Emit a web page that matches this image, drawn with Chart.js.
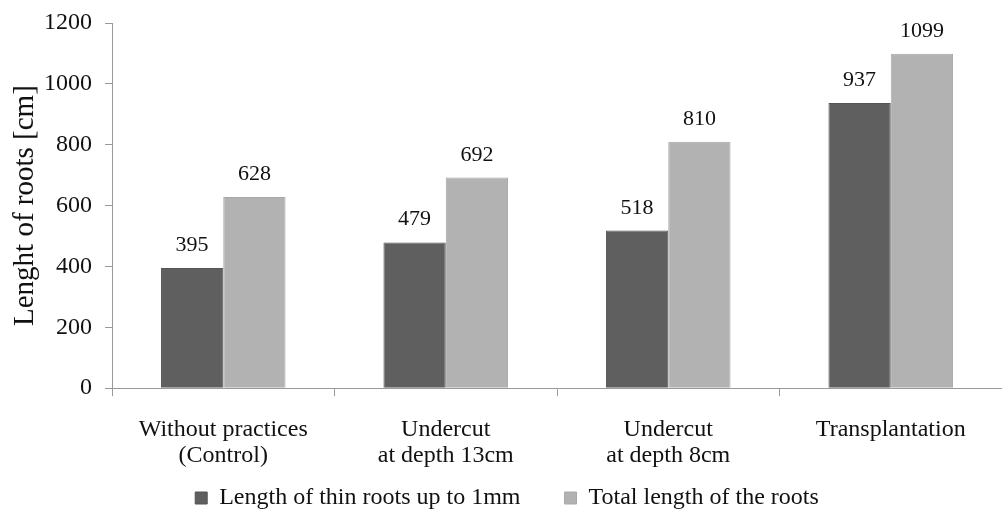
<!DOCTYPE html>
<html lang="en">
<head>
    <meta charset="UTF-8">
    <title>Length of roots</title>
    <script src="https://cdn.jsdelivr.net/npm/chart.js@4.4.1/dist/chart.umd.min.js"></script>
    <style>
        body { margin: 0; background: #fff; }
        #wrap { width: 1002px; height: 520px; }
    </style>
</head>
<body>
    <div id="wrap"><canvas id="rootsChart"></canvas></div>
    <script>
        const categories = [
            ['Without practices', '(Control)'],
            ['Undercut', 'at depth 13cm'],
            ['Undercut', 'at depth 8cm'],
            'Transplantation'
        ];
        const thinRoots = [395, 479, 518, 937];
        const totalRoots = [628, 692, 810, 1099];
        const seriesNames = ['Length of thin roots up to 1mm', 'Total length of the roots'];

        const serif = '"Liberation Serif", "Times New Roman", serif';

        // draws the value above each bar
        const valueLabels = {
            id: 'valueLabels',
            afterDatasetsDraw(chart) {
                const ctx = chart.ctx;
                ctx.save();
                ctx.font = '22px ' + serif;
                ctx.fillStyle = '#111';
                ctx.textAlign = 'center';
                ctx.textBaseline = 'alphabetic';
                chart.data.datasets.forEach((ds, i) => {
                    chart.getDatasetMeta(i).data.forEach((bar, j) => {
                        ctx.fillText(ds.data[j], bar.x, bar.y - 17);
                    });
                });
                ctx.restore();
            }
        };

        new Chart(document.getElementById('rootsChart'), {
            type: 'bar',
            data: {
                labels: categories,
                datasets: [{
                    label: seriesNames[0],
                    data: thinRoots,
                    backgroundColor: '#5f5f5f',
                    borderColor: '#555',
                    borderWidth: 1
                }, {
                    label: seriesNames[1],
                    data: totalRoots,
                    backgroundColor: '#b2b2b2',
                    borderColor: '#a8a8a8',
                    borderWidth: 1
                }]
            },
            options: {
                responsive: true,
                maintainAspectRatio: false,
                animation: false,
                layout: { padding: { top: 0, right: -12, left: 0, bottom: 0 } },
                datasets: { bar: { categoryPercentage: 0.56, barPercentage: 1 } },
                plugins: {
                    legend: {
                        position: 'bottom',
                        labels: {
                            font: { family: serif, size: 24 },
                            color: '#111',
                            boxWidth: 12,
                            boxHeight: 12,
                            padding: 8,
                            // widen the gap between the two entries
                            generateLabels(chart) {
                                const items = Chart.defaults.plugins.legend.labels.generateLabels(chart);
                                items[0].text += '\u2002\u2002\u2002';
                                return items;
                            }
                        }
                    },
                    tooltip: { enabled: false }
                },
                scales: {
                    x: {
                        grid: { drawOnChartArea: false, color: '#9a9a9a', tickLength: 8, offset: true },
                        border: { color: '#9a9a9a' },
                        ticks: { font: { family: serif, size: 24, lineHeight: 1.1 }, color: '#111', maxRotation: 0, padding: 20 },
                        afterFit(scale) { scale.height -= 11; }
                    },
                    y: {
                        min: 0,
                        max: 1200,
                        grid: { drawOnChartArea: false, color: '#9a9a9a', tickLength: 7 },
                        border: { color: '#9a9a9a' },
                        ticks: {
                            stepSize: 200,
                            font: { family: serif, size: 24 },
                            color: '#111',
                            padding: 13,
                            callback: v => String(v)
                        },
                        title: {
                            display: true,
                            text: 'Lenght of roots [cm]',
                            font: { family: serif, size: 29 },
                            color: '#111',
                            padding: { top: 8, bottom: 0 }
                        },
                        afterFit(scale) {
                            scale.width = 112;
                            scale.paddingTop = 23;
                        }
                    }
                }
            },
            plugins: [valueLabels]
        });
    </script>
</body>
</html>
